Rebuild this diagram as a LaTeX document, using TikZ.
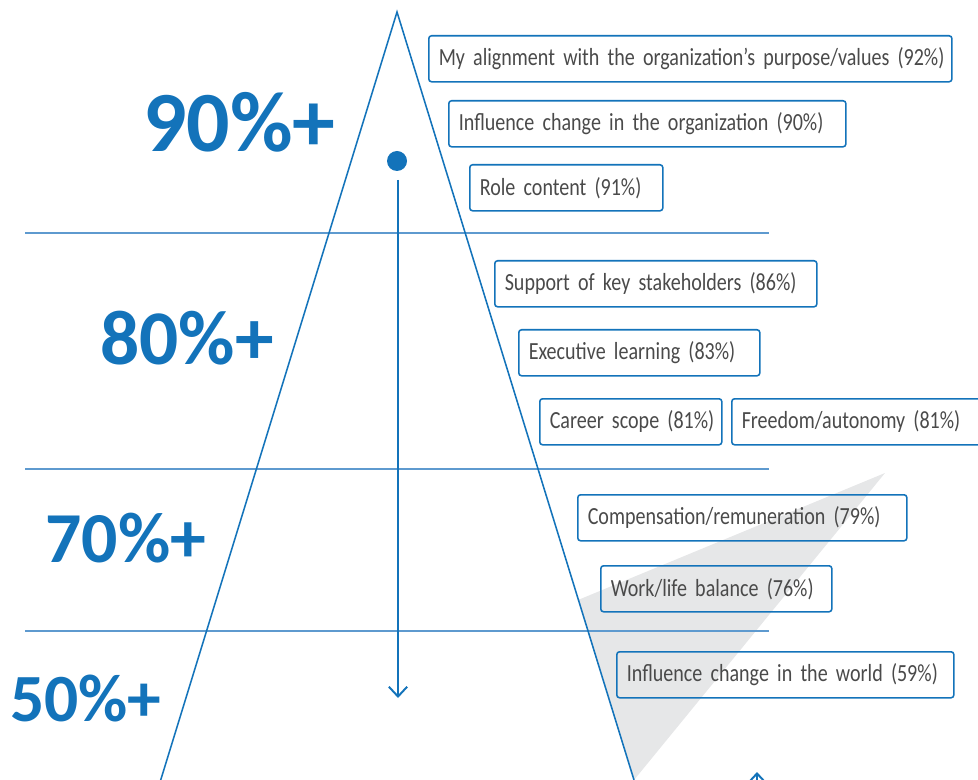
\documentclass[tikz,border=0pt]{standalone}
\usepackage{fontspec}
\setmainfont{Carlito}
\newfontfamily\boxfont{Carlito}[FakeStretch=0.815, WordSpace=0.7]
\usepackage{tikz}
\usetikzlibrary{arrows.meta}

\definecolor{corpblue}{HTML}{1373BA}
\definecolor{bandblue}{HTML}{5E9ACF}
\definecolor{textgray}{HTML}{4A4A4A}
\definecolor{wedgegray}{HTML}{E6E7E8}

\begin{document}
\begin{tikzpicture}[x=0.025cm, y=-0.025cm,
  band/.style={draw=bandblue, line width=0.9pt},
  pyramid/.style={draw=corpblue, line width=1.1pt},
  level/.style={anchor=base west, text=corpblue, inner sep=0pt},
  item/.style={draw=corpblue, line width=1.1pt, rounded corners=2pt, anchor=north west,
    minimum height=1.15cm, inner xsep=0.25cm, inner ysep=0pt, align=left,
    text=textgray, font=\boxfont\fontsize{17.5}{19}\selectfont},
  flow/.style={draw=corpblue, line width=1.4pt, -{Straight Barb[length=7pt, width=13pt, line width=1.4pt]}}]
  \path[use as bounding box, clip] (0,0) rectangle (978,780);

  % shaded wedge behind the right flank
  \fill[wedgegray] (885,473) -- (578,600) -- (634,780) -- cycle;

  % band separators and the pyramid outline
  \foreach \y in {233,469,631}
    \draw[band] (25,\y) -- (769,\y);
  \draw[pyramid] (160.7,780) -- (397,12) -- (634,780);

  % level labels
  \node[level, font=\bfseries\fontsize{61}{61}\selectfont] (l90) at (143,152) {90\%+};
  \node[level, font=\bfseries\fontsize{55}{55}\selectfont] (l80) at (100,364) {80\%+};
  \node[level, font=\bfseries\fontsize{51}{51}\selectfont] (l70) at (45,562) {70\%+};
  \node[level, font=\bfseries\fontsize{48}{48}\selectfont] (l50) at (10,721) {50\%+};

  % downward arrow from the apex dot
  \node[circle, fill=corpblue, inner sep=0pt, minimum size=0.5cm] (dot) at (397,161) {};
  \coordinate (dotfoot) at (398,180);
  \coordinate (bottom) at (398,698);
  \draw[flow] (dotfoot) -- (bottom);
  \coordinate (lowtail) at (757,810);
  \coordinate (lowtip) at (757,772);
  \draw[flow] (lowtail) -- (lowtip);

  % factor boxes
  \node[item, text width=12.575cm] (align) at (428,35) {\mbox{My alignment with the organization’s purpose/values (92\%)}};
  \node[item, text width=9.425cm] (orgchange) at (448,100) {\mbox{Influence change in the organization (90\%)}};
  \node[item, text width=4.325cm] (role) at (469,164) {\mbox{Role content (91\%)}};
  \node[item, text width=7.55cm] (support) at (494,260) {\mbox{Support of key stakeholders (86\%)}};
  \node[item, text width=5.525cm] (learning) at (518,329) {\mbox{Executive learning (83\%)}};
  \node[item, text width=4.05cm] (career) at (539,398) {\mbox{Career scope (81\%)}};
  \node[item, text width=6.125cm] (freedom) at (731,398) {\mbox{Freedom/autonomy (81\%)}};
  \node[item, text width=7.725cm] (pay) at (577,494) {\mbox{Compensation/remuneration (79\%)}};
  \node[item, text width=5.275cm] (balance) at (600,565) {\mbox{Work/life balance (76\%)}};
  \node[item, text width=7.925cm] (world) at (616,651) {\mbox{Influence change in the world (59\%)}};
\end{tikzpicture}
\end{document}
